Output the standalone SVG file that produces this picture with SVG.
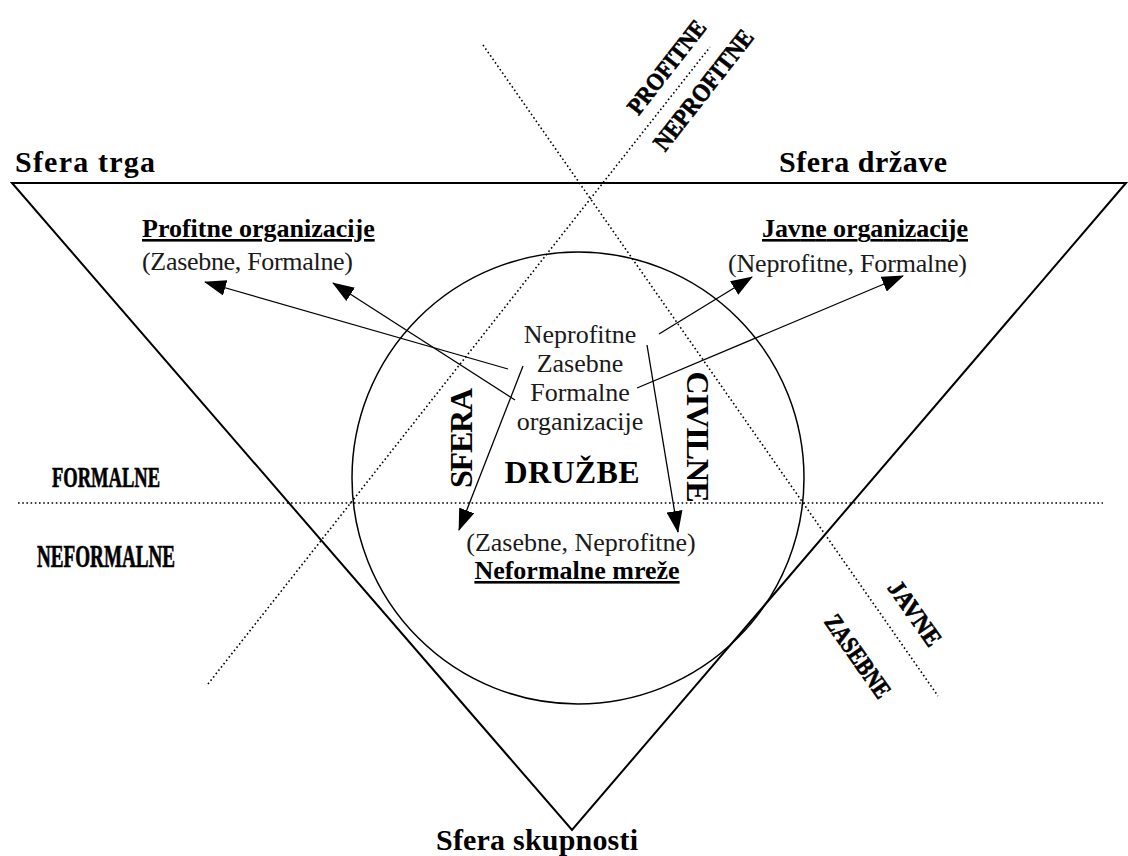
<svg xmlns="http://www.w3.org/2000/svg" width="1128" height="856" viewBox="0 0 1128 856">
<defs>
<style>
text{font-family:"Liberation Serif","DejaVu Serif",serif;fill:#000}
.reg{font-size:26px;fill:#1a1a1a}
.bold{font-size:26px;font-weight:bold}
.sf{font-size:30px;font-weight:bold}
.big{font-size:32px;font-weight:bold}
.cond{font-weight:bold;stroke:#000;stroke-width:0.7}
.dot{stroke:#000;stroke-width:1.6;stroke-dasharray:1.6 2.6;fill:none}
.arr{stroke:#000;stroke-width:1.3;fill:none;marker-end:url(#ah)}
</style>
<marker id="ah" markerUnits="userSpaceOnUse" markerWidth="22" markerHeight="16" viewBox="0 0 22 16" refX="21" refY="8" orient="auto">
<path d="M0,0 L22,8 L0,16 z" fill="#000"/>
</marker>
</defs>
<rect width="1128" height="856" fill="#fff"/>
<g id="triangle"><polygon points="12,183 1126,183 572,830" fill="none" stroke="#000" stroke-width="2"/></g>
<g id="circle"><circle cx="578" cy="478" r="226" fill="none" stroke="#000" stroke-width="1.5"/></g>
<g id="connectors">
<line class="dot" x1="18" y1="503" x2="1103" y2="503"/>
<line class="dot" x1="208" y1="684" x2="710" y2="47"/>
<line class="dot" x1="483" y1="45" x2="938" y2="696"/>
<line class="arr" x1="508" y1="369" x2="205" y2="282"/>
<line class="arr" x1="515" y1="400" x2="333" y2="283"/>
<line class="arr" x1="659" y1="334" x2="752" y2="277"/>
<line class="arr" x1="637" y1="388" x2="903" y2="276"/>
<line class="arr" x1="523" y1="366" x2="459" y2="530"/>
<line class="arr" x1="647" y1="345" x2="678" y2="532"/>
</g>
<g id="sfera-trga"><text class="sf" x="15" y="172" textLength="140">Sfera trga</text></g>
<g id="sfera-drzave"><text class="sf" x="779" y="172" textLength="168">Sfera države</text></g>
<g id="sfera-skupnosti"><text class="sf" x="436" y="850" textLength="202">Sfera skupnosti</text></g>
<g id="profitne-org">
<text class="bold" x="142" y="237" text-decoration="underline">Profitne organizacije</text>
<text class="reg" x="142" y="270" textLength="211">(Zasebne, Formalne)</text>
</g>
<g id="javne-org">
<text class="bold" x="762" y="237" text-decoration="underline" textLength="206">Javne organizacije</text>
<text class="reg" x="728" y="272" textLength="239">(Neprofitne, Formalne)</text>
</g>
<g id="center-org">
<text class="reg" x="580" y="343" text-anchor="middle">Neprofitne</text>
<text class="reg" x="580" y="372" text-anchor="middle">Zasebne</text>
<text class="reg" x="580" y="401" text-anchor="middle">Formalne</text>
<text class="reg" x="580" y="430" text-anchor="middle">organizacije</text>
</g>
<g id="sfera-civilne-druzbe">
<text class="big" transform="translate(472,438) rotate(-90)" text-anchor="middle" textLength="100">SFERA</text>
<text class="big" transform="translate(687,437) rotate(90)" text-anchor="middle" textLength="131">CIVILNE</text>
<text class="big" x="572" y="483" text-anchor="middle" textLength="135">DRUŽBE</text>
</g>
<g id="neformalne-mreze">
<text class="reg" x="581" y="551" text-anchor="middle">(Zasebne, Neprofitne)</text>
<text class="bold" x="577" y="579" text-anchor="middle" text-decoration="underline">Neformalne mreže</text>
</g>
<g id="formalne-label"><text class="cond" x="52" y="487" textLength="108" lengthAdjust="spacingAndGlyphs" style="font-size:30px">FORMALNE</text></g>
<g id="neformalne-label"><text class="cond" x="37" y="567" textLength="138" lengthAdjust="spacingAndGlyphs" style="font-size:31px">NEFORMALNE</text></g>
<g id="profitne-label"><text class="cond" transform="translate(673,72) rotate(-52)" text-anchor="middle" textLength="112" lengthAdjust="spacingAndGlyphs" style="font-size:24px">PROFITNE</text></g>
<g id="neprofitne-label"><text class="cond" transform="translate(710,95) rotate(-52)" text-anchor="middle" textLength="146" lengthAdjust="spacingAndGlyphs" style="font-size:25px">NEPROFITNE</text></g>
<g id="javne-label"><text class="cond" transform="translate(908,618) rotate(55)" text-anchor="middle" textLength="74" lengthAdjust="spacingAndGlyphs" style="font-size:25px">JAVNE</text></g>
<g id="zasebne-label"><text class="cond" transform="translate(851,661) rotate(55)" text-anchor="middle" textLength="96" lengthAdjust="spacingAndGlyphs" style="font-size:25px">ZASEBNE</text></g>
</svg>
